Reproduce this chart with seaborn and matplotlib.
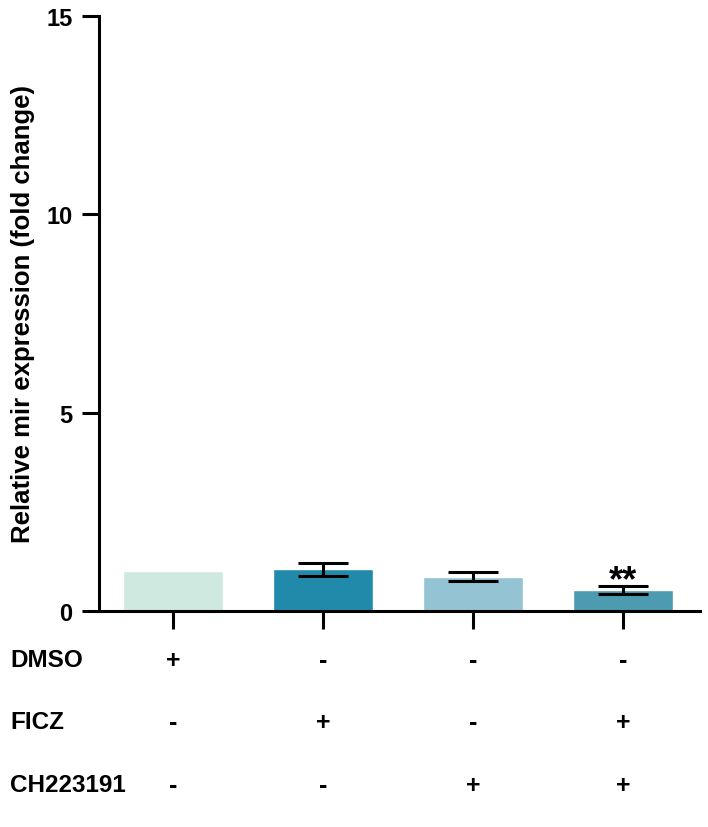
import seaborn as sns
import pandas as pd
import numpy as np
import matplotlib.pyplot as plt

groups = ['g1', 'g2', 'g3', 'g4']
fold_change = [1.0, 1.05, 0.86, 0.53]
err = [0.0, 0.17, 0.11, 0.11]
bar_colors = ['#d0e9e0', '#2189aa', '#94c3d4', '#4d9bb0']
stars = ['', '', '', '**']

row_names = ['DMSO', 'FICZ', 'CH223191']
dmso = ['+', '-', '-', '-']
ficz = ['-', '+', '-', '+']
ch223191 = ['-', '-', '+', '+']

sns.set_style('white')
plt.rcParams['font.family'] = ['Liberation Sans', 'DejaVu Sans']
plt.rcParams['font.weight'] = 'bold'
plt.rcParams['text.color'] = 'black'
plt.rcParams['axes.labelcolor'] = 'black'
plt.rcParams['xtick.color'] = 'black'
plt.rcParams['ytick.color'] = 'black'

df = pd.DataFrame({'group': groups, 'value': fold_change})

fig = plt.figure(figsize=(7.08, 8.28), dpi=100)
ax = fig.add_axes([0.1398, 0.2609, 0.8489, 0.7186])

sns.barplot(data=df, x='group', y='value', hue='group', palette=bar_colors,
            width=0.667, legend=False, saturation=1, ax=ax)

# error bars only where there is a spread
idx = [i for i, e in enumerate(err) if e > 0]
ax.errorbar(idx, [fold_change[i] for i in idx], yerr=[err[i] for i in idx],
            fmt='none', ecolor='black', elinewidth=2.2, capsize=18, capthick=2.2)

for i, s in enumerate(stars):
    if s:
        ax.text(i, fold_change[i] + err[i] - 0.32, s, ha='center', va='bottom',
                fontsize=26, fontweight='bold', color='black')

ax.set_ylim(0, 15)
ax.set_xlim(-0.493, 3.513)
ax.set_yticks([0, 5, 10, 15])
ax.set_xticks(range(len(groups)))
ax.set_xticklabels([])
ax.set_xlabel('')
ax.set_ylabel('Relative mir expression (fold change)', fontsize=18.5,
              fontweight='bold', labelpad=8)
ax.tick_params(axis='y', length=12, width=2.2, labelsize=17, pad=7, left=True)
ax.tick_params(axis='x', length=13, width=2.2, bottom=True, direction='out')
for lab in ax.get_yticklabels():
    lab.set_fontweight('bold')
sns.despine(ax=ax)
for side in ['left', 'bottom']:
    ax.spines[side].set_linewidth(2.2)
    ax.spines[side].set_color('black')

# treatment table under the axis
row_y = [(828 - 661) / 828, (828 - 723) / 828, (828 - 786) / 828]
for name, signs, y in zip(row_names, [dmso, ficz, ch223191], row_y):
    fig.text(10 / 708, y, name, ha='left', va='center', fontsize=17.5,
             fontweight='bold')
    for i, s in enumerate(signs):
        xf = fig.transFigure.inverted().transform(ax.transData.transform((i, 0)))[0]
        fig.text(xf, y, s, ha='center', va='center', fontsize=18,
                 fontweight='bold')

fig.savefig('out.png', dpi=100)
